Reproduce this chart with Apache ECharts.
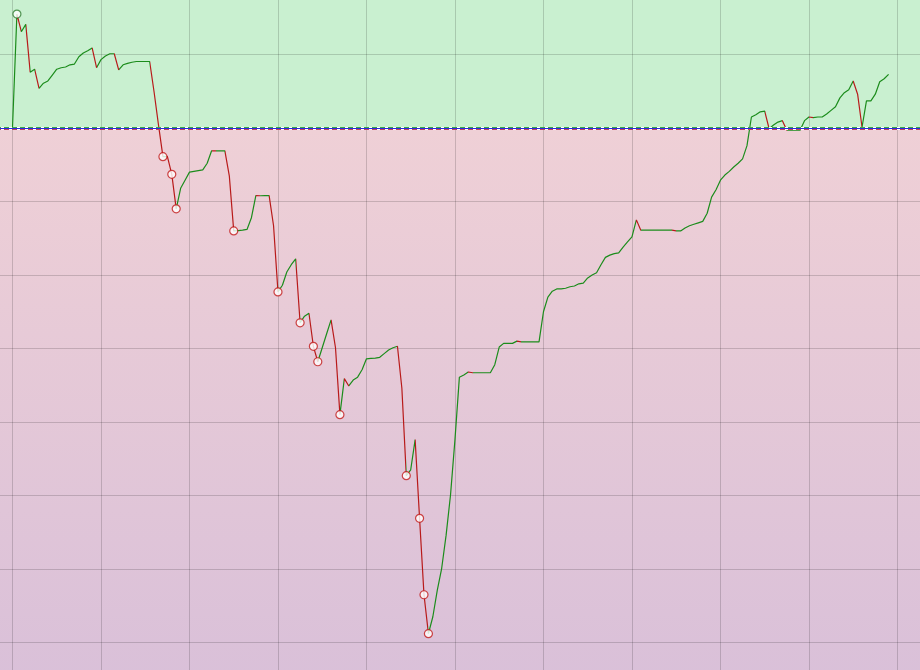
<!DOCTYPE html>
<html>
<head>
<meta charset="utf-8">
<script src="https://cdn.jsdelivr.net/npm/echarts@6/dist/echarts.min.js"></script>
<style>
html,body{margin:0;padding:0;background:#fff;}
#chart{width:920px;height:670px;}
</style>
</head>
<body>
<div id="chart"></div>
<script>
// Equity curve values (one per step, grid line every 10 units)
const values = [
  0, 15.5, 13.1, 14.1, 7.6, 8.0, 5.4, 6.1, 6.4, 7.2,
  8.0, 8.2, 8.3, 8.6, 8.7, 9.7, 10.2, 10.5, 10.9, 8.2,
  9.3, 9.8, 10.1, 10.1, 7.9, 8.6, 8.8, 8.95, 9.05, 9.05,
  9.05, 9.05, 4.9, 0.4, -3.9, -3.85, -6.3, -11.0, -8.2, -7.1,
  -6.0, -5.9, -5.8, -5.7, -4.8, -3.1, -3.12, -3.11, -3.1, -6.5,
  -14.0, -13.95, -13.9, -13.8, -12.2, -9.2, -9.22, -9.21, -9.2, -13.3,
  -22.3, -21.4, -19.6, -18.6, -17.8, -26.5, -25.6, -25.2, -29.7, -31.8,
  -29.9, -28.0, -26.1, -29.9, -39.0, -34.1, -35.1, -34.3, -33.9, -32.9,
  -31.4, -31.35, -31.3, -31.2, -30.7, -30.2, -29.9, -29.7, -35.4, -47.3,
  -46.5, -42.4, -53.1, -63.5, -68.8, -66.5, -62.9, -59.9, -55.4, -49.9,
  -42.4, -33.9, -33.6, -33.2, -33.3, -33.3, -33.3, -33.3, -33.3, -32.2,
  -29.8, -29.3, -29.3, -29.3, -29.0, -29.1, -29.1, -29.1, -29.1, -29.1,
  -25.0, -23.0, -22.2, -21.9, -21.9, -21.8, -21.6, -21.5, -21.2, -21.1,
  -20.4, -20.0, -19.7, -18.6, -17.6, -17.3, -17.1, -17.0, -16.2, -15.5,
  -14.8, -12.5, -13.9, -13.9, -13.9, -13.9, -13.9, -13.9, -13.9, -13.9,
  -14.0, -14.0, -13.6, -13.3, -13.1, -12.9, -12.7, -11.6, -9.4, -8.4,
  -7.1, -6.4, -5.9, -5.3, -4.8, -4.2, -2.4, 1.5, 1.8, 2.2,
  2.3, -0.1, 0.4, 0.8, 1.0, -0.3, -0.3, -0.3, -0.3, 1.0,
  1.5, 1.4, 1.5, 1.5, 1.9, 2.4, 2.9, 4.1, 4.8, 5.2,
  6.4, 4.6, 0.1, 3.7, 3.7, 4.6, 6.3, 6.7, 7.3
];
const baseline = 0;

const UP = '#1b8c1b';
const DOWN = '#b81a1a';

const points = values.map((v, i) => [i, v]);

// segment colours: green when rising or flat, red when falling
const pieces = [];
for (let i = 0; i < values.length - 1; i++) {
  const d = values[i + 1] - values[i];
  const c = d >= 0 ? UP : DOWN;
  if (i === values.length - 2) pieces.push({ gte: i, lte: i + 1, color: c });
  else pieces.push({ gte: i, lt: i + 1, color: c });
}

// markers: the peak, and every new low below the baseline
const maxVal = Math.max(...values);
const peakIdx = values.indexOf(maxVal);
const lowMarks = [];
let runMin = baseline;
values.forEach((v, i) => {
  if (v < runMin) { runMin = v; lowMarks.push([i, v]); }
});

const chart = echarts.init(document.getElementById('chart'), null, { renderer: 'canvas' });
const onePx = 10 / 73.5;

chart.setOption({
  animation: false,
  backgroundColor: '#ffffff',
  grid: {
    show: true,
    outerBoundsMode: 'none',
    containLabel: false,
    left: -76, right: 0, top: -19, bottom: -46,
    borderWidth: 0,
    backgroundColor: new echarts.graphic.LinearGradient(0, 0, 0, 1, [
      { offset: 0, color: '#c9f0d0' },
      { offset: 0.2, color: '#c9f0d0' },
      { offset: 0.2, color: '#efd0d6' },
      { offset: 1, color: '#d8bfd9' }
    ])
  },
  xAxis: {
    type: 'value', min: -20, max: 205.1, interval: 20,
    axisLine: { show: false }, axisTick: { show: false }, axisLabel: { show: false },
    splitLine: { show: true, lineStyle: { color: 'rgba(0,0,0,0.16)', width: 1 } }
  },
  yAxis: {
    type: 'value', min: -80, max: 20, interval: 10,
    axisLine: { show: false }, axisTick: { show: false }, axisLabel: { show: false },
    splitLine: { show: true, lineStyle: { color: 'rgba(0,0,0,0.16)', width: 1 } }
  },
  visualMap: {
    show: false, type: 'piecewise', seriesIndex: 0, dimension: 0, pieces: pieces
  },
  series: [
    {
      type: 'line',
      data: points,
      showSymbol: false,
      symbol: 'none',
      lineStyle: { width: 1.2 },
      z: 3,
      markLine: {
        silent: true, symbol: 'none', animation: false,
        label: { show: false },
        data: [
          { yAxis: baseline, lineStyle: { color: '#ffffff', width: 3, type: 'solid' } },
          { yAxis: baseline + onePx, lineStyle: { color: '#3aa84a', width: 1, type: [5, 3] } },
          { yAxis: baseline - onePx, lineStyle: { color: '#c0405a', width: 1, type: [5, 3] } },
          { yAxis: baseline, lineStyle: { color: '#2b2bd8', width: 1.2, type: 'solid' } }
        ]
      }
    },
    {
      type: 'scatter',
      data: lowMarks,
      symbol: 'circle', symbolSize: 8,
      itemStyle: { color: '#ffffff', borderColor: '#c01818', borderWidth: 1.2 },
      z: 5, silent: true
    },
    {
      type: 'scatter',
      data: [[peakIdx, maxVal]],
      symbol: 'circle', symbolSize: 8,
      itemStyle: { color: '#ffffff', borderColor: '#2a7a2a', borderWidth: 1.2 },
      z: 5, silent: true
    }
  ]
});
</script>
</body>
</html>
